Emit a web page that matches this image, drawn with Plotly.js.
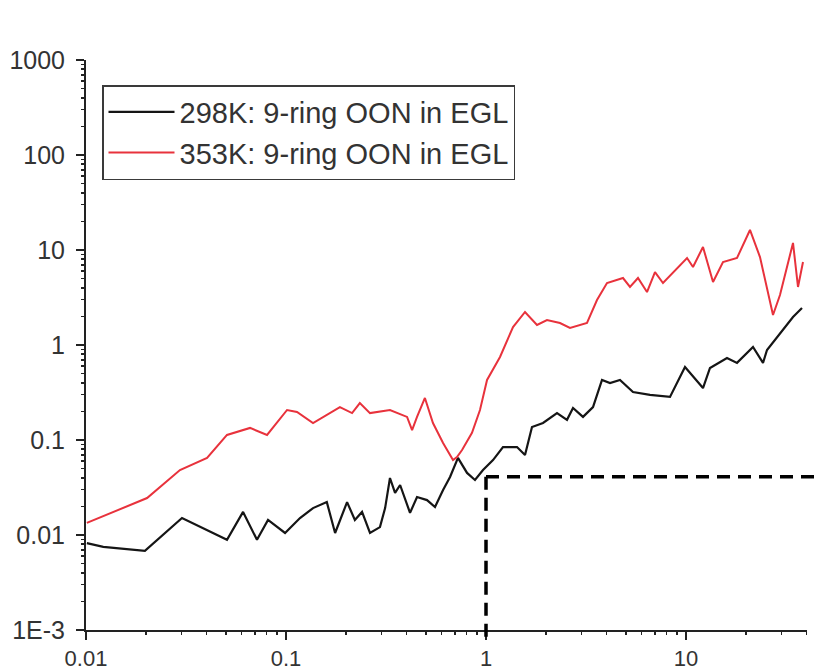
<!DOCTYPE html>
<html>
<head>
<meta charset="utf-8">
<script src="https://cdn.plot.ly/plotly-3.0.1.min.js"></script>
<style>html,body{margin:0;padding:0;background:#fff}#chart{width:820px;height:672px}</style>
</head>
<body>
<div id="chart"></div>
<script>
// ---- data ----
const seriesNames = ['298K: 9-ring OON in EGL', '353K: 9-ring OON in EGL'];

const x298 = [0.0101,0.0122,0.0197,0.0302,0.0507,0.061,0.0716,0.0813,0.0989,0.1175,0.1365,0.160,0.176,0.202,0.221,0.240,0.263,0.295,0.313,0.331,0.351,0.372,0.417,0.452,0.507,0.556,0.610,0.661,0.724,0.804,0.881,0.966,1.084,1.216,1.429,1.567,1.698,1.928,2.265,2.541,2.723,3.055,3.428,3.802,4.169,4.677,5.433,6.607,8.318,9.886,12.16,13.18,16.03,17.99,21.63,24.27,25.41,29.51,34.28,38.02];
const y298 = [0.0082,0.0075,0.0068,0.0151,0.0089,0.0175,0.0089,0.0144,0.0105,0.0151,0.0192,0.0222,0.0105,0.0222,0.0144,0.0175,0.0105,0.0121,0.0192,0.0398,0.0277,0.0336,0.0171,0.0251,0.0233,0.0197,0.0298,0.0408,0.0648,0.045,0.0379,0.0483,0.0615,0.0843,0.0843,0.0695,0.137,0.151,0.192,0.163,0.217,0.175,0.222,0.429,0.398,0.429,0.320,0.298,0.284,0.586,0.352,0.573,0.730,0.648,0.953,0.648,0.885,1.337,1.972,2.449];

const x353 = [0.0101,0.01365,0.0202,0.0295,0.0403,0.0507,0.0661,0.0804,0.1012,0.1135,0.1365,0.186,0.214,0.234,0.263,0.331,0.403,0.427,0.452,0.495,0.543,0.610,0.684,0.716,0.759,0.851,0.933,1.012,1.175,1.365,1.567,1.799,2.018,2.344,2.63,3.199,3.589,4.027,4.842,5.248,5.754,6.383,6.998,7.674,10.12,10.84,12.16,13.65,15.31,17.99,20.89,23.44,27.23,29.51,34.28,36.31,38.46];
const y353 = [0.0134,0.0175,0.0245,0.0483,0.0648,0.113,0.134,0.113,0.207,0.197,0.151,0.222,0.192,0.245,0.192,0.207,0.175,0.127,0.175,0.277,0.151,0.0929,0.0615,0.0662,0.0785,0.119,0.207,0.429,0.748,1.546,2.225,1.624,1.833,1.705,1.51,1.705,2.978,4.497,5.07,4.08,5.07,3.61,5.86,4.497,8.24,6.62,10.76,4.60,7.48,8.24,16.25,8.43,2.07,3.36,11.86,4.08,7.48];

const xTickVals = [0.01, 0.1, 1, 10];
const xTickText = ['0.01', '0.1', '1', '10'];
const yTickVals = [0.001, 0.01, 0.1, 1, 10, 100, 1000];
const yTickText = ['1E-3', '0.01', '0.1', '1', '10', '100', '1000'];

// dashed guide corner (x, y)
const guideX = 1;
const guideY = 0.041;

// ---- layout helpers ----
const xRange = [-2, 1.605];
const yRange = [-3, 3];
const toPaperX = v => (Math.log10(v) - xRange[0]) / (xRange[1] - xRange[0]);
const toPaperY = v => (Math.log10(v) - yRange[0]) / (yRange[1] - yRange[0]);
function minorVals(lo, hi) {
  const out = [];
  for (let d = lo; d < hi; d++) for (let m = 2; m <= 9; m++) out.push(m * Math.pow(10, d));
  return out;
}

const traces = [
  // empty helper trace so the minor-tick axes get a subplot
  {x: [], y: [], xaxis: 'x2', yaxis: 'y2', type: 'scatter', mode: 'lines',
   showlegend: false, hoverinfo: 'skip'},
  {x: x298, y: y298, name: seriesNames[0], type: 'scatter', mode: 'lines',
   line: {color: '#151515', width: 2.2}},
  {x: x353, y: y353, name: seriesNames[1], type: 'scatter', mode: 'lines',
   line: {color: '#e8323c', width: 2}}
];

const fam = 'Liberation Sans, Arial, sans-serif';

const layout = {
  width: 820, height: 672,
  margin: {l: 86, r: 13, t: 60, b: 42, pad: 0},
  paper_bgcolor: '#fff', plot_bgcolor: '#fff',
  showlegend: true,
  legend: {
    x: (102 - 86) / 721, y: (630 - 85) / 570, xanchor: 'left', yanchor: 'top',
    bgcolor: 'rgba(255,255,255,0)', bordercolor: '#3a3a3a', borderwidth: 1.5,
    font: {family: fam, size: 29, color: '#333'},
    itemwidth: 66, tracegroupgap: 0, traceorder: 'normal'
  },
  xaxis: {
    type: 'log', range: xRange, showgrid: false, zeroline: false,
    showline: true, linecolor: '#222', linewidth: 2,
    ticks: 'outside', ticklen: 8, tickwidth: 2.2, tickcolor: '#222',
    tickmode: 'array', tickvals: xTickVals, ticktext: xTickText,
    tickfont: {family: fam, size: 22, color: '#333'}
  },
  yaxis: {
    type: 'log', range: yRange, showgrid: false, zeroline: false,
    showline: true, linecolor: '#222', linewidth: 2,
    ticks: 'outside', ticklen: 8, tickwidth: 2.2, tickcolor: '#222',
    tickmode: 'array', tickvals: yTickVals, ticktext: yTickText,
    tickfont: {family: fam, size: 25, color: '#333'}, ticklabelstandoff: 6
  },
  // companion axes carrying only the minor ticks
  xaxis2: {
    type: 'log', range: xRange, overlaying: 'x', anchor: 'y2', side: 'bottom',
    showgrid: false, zeroline: false, showline: false, showticklabels: false,
    ticks: 'outside', ticklen: 4, tickwidth: 1.6, tickcolor: '#222',
    tickmode: 'array', tickvals: minorVals(-2, 2)
  },
  yaxis2: {
    type: 'log', range: yRange, overlaying: 'y', anchor: 'x2', side: 'left',
    showgrid: false, zeroline: false, showline: false, showticklabels: false,
    ticks: 'outside', ticklen: 4, tickwidth: 1.6, tickcolor: '#222',
    tickmode: 'array', tickvals: minorVals(-3, 3)
  },
  shapes: [
    {type: 'line', xref: 'paper', yref: 'paper',
     x0: toPaperX(guideX), x1: 1.02, y0: toPaperY(guideY), y1: toPaperY(guideY),
     line: {color: '#000', width: 3.5, dash: '13px,8px'}},
    {type: 'line', xref: 'paper', yref: 'paper',
     x0: toPaperX(guideX), x1: toPaperX(guideX), y0: toPaperY(guideY), y1: -0.014,
     line: {color: '#000', width: 3.5, dash: '13px,8px'}}
  ]
};

Plotly.newPlot('chart', traces, layout, {displayModeBar: false, staticPlot: true});
</script>
</body>
</html>
